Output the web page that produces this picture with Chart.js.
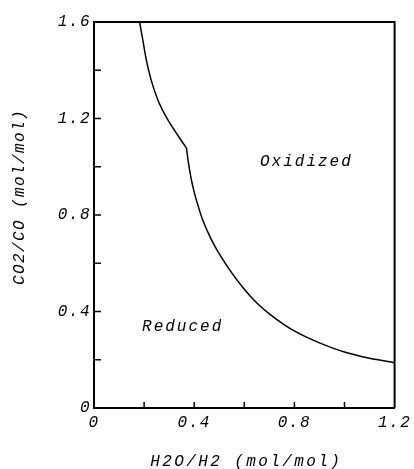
<!DOCTYPE html>
<html>
<head>
<meta charset="utf-8">
<script src="https://cdn.jsdelivr.net/npm/chart.js@4"></script>
<style>
html,body{margin:0;padding:0;background:#fff;}
#wrap{width:414px;height:469px;position:relative;}
</style>
</head>
<body>
<div id="wrap"><canvas id="c"></canvas></div>
<script>
// Phase boundary (upper branch, above the kink)
const upperX = [0.182, 0.195, 0.209, 0.228, 0.255, 0.288, 0.321, 0.345, 0.369];
const upperY = [1.60, 1.525, 1.442, 1.36, 1.277, 1.207, 1.152, 1.114, 1.078];
// Phase boundary (lower branch, below the kink)
const lowerX = [0.369, 0.378, 0.388, 0.40, 0.415, 0.433, 0.455, 0.48, 0.51, 0.55, 0.60, 0.65, 0.70, 0.76, 0.82, 0.90, 1.0, 1.1, 1.2];
const lowerY = [1.078, 1.01, 0.95, 0.895, 0.84, 0.782, 0.728, 0.675, 0.622, 0.56, 0.492, 0.435, 0.39, 0.345, 0.308, 0.27, 0.232, 0.206, 0.188];
// Region labels
const regionLabels = ['Oxidized', 'Reduced'];
const regionX = [0.844, 0.35];
const regionY = [1.02, 0.335];
// Axis titles and tick labels
const xTitle = 'H2O/H2 (mol/mol)';
const yTitle = 'CO2/CO (mol/mol)';
const xTickLabels = ['0', '0.4', '0.8', '1.2'];
const yTickLabels = ['0', '0.4', '0.8', '1.2', '1.6'];

const FONT = 'italic 16px "Liberation Mono", "DejaVu Sans Mono", monospace';

function toPts(xs, ys){ return xs.map((x,i)=>({x:x, y:ys[i]})); }
function labelFor(list, v){
  const k = Math.round(v*10);
  if (k % 4 !== 0) return '';
  return list[k/4] !== undefined ? list[k/4] : '';
}

const decor = {
  id: 'decor',
  beforeDraw(chart){ chart.ctx.letterSpacing = '1.5px'; },
  afterDraw(chart){
    const ctx = chart.ctx, a = chart.chartArea;
    const xs = chart.scales.x, ys = chart.scales.y;
    ctx.save();
    ctx.strokeStyle = '#000';
    // top and right frame
    ctx.lineWidth = 2;
    ctx.beginPath();
    ctx.moveTo(a.left, a.top); ctx.lineTo(a.right, a.top); ctx.lineTo(a.right, a.bottom);
    ctx.stroke();
    // inward ticks
    ctx.lineWidth = 1.5;
    ctx.beginPath();
    xs.ticks.forEach(t=>{
      if (t.value <= xs.min + 1e-9 || t.value >= xs.max - 1e-9) return;
      const px = xs.getPixelForValue(t.value);
      ctx.moveTo(px, a.bottom); ctx.lineTo(px, a.bottom - 6);
    });
    ys.ticks.forEach(t=>{
      if (t.value <= ys.min + 1e-9 || t.value >= ys.max - 1e-9) return;
      const py = ys.getPixelForValue(t.value);
      ctx.moveTo(a.left, py); ctx.lineTo(a.left + 7, py);
    });
    ctx.stroke();
    // region labels
    ctx.fillStyle = '#000';
    ctx.font = FONT;
    ctx.letterSpacing = '2px';
    ctx.textAlign = 'center';
    ctx.textBaseline = 'middle';
    regionLabels.forEach((s,i)=>{
      ctx.fillText(s, xs.getPixelForValue(regionX[i]) + 1, ys.getPixelForValue(regionY[i]));
    });
    // axis titles
    ctx.letterSpacing = '2.4px';
    ctx.fillText(xTitle, (a.left + a.right)/2 + 2, 462);
    ctx.translate(20, 198);
    ctx.rotate(-Math.PI/2);
    ctx.letterSpacing = '1.4px';
    ctx.fillText(yTitle, 1, 0);
    ctx.restore();
  }
};

new Chart(document.getElementById('c'), {
  type: 'line',
  data: {
    datasets: [
      { data: toPts(upperX, upperY), borderColor:'#000', borderWidth:1.5, pointRadius:0, cubicInterpolationMode:'monotone', fill:false },
      { data: toPts(lowerX, lowerY), borderColor:'#000', borderWidth:1.5, pointRadius:0, cubicInterpolationMode:'monotone', fill:false }
    ]
  },
  options: {
    responsive: true,
    maintainAspectRatio: false,
    animation: false,
    layout: { padding: { left: 0, right: 17, top: 22, bottom: 0 } },
    plugins: { legend: { display:false }, tooltip: { enabled:false } },
    scales: {
      x: {
        type: 'linear', min: 0, max: 1.2,
        afterFit(s){ s.height = 61; },
        grid: { display: false, drawTicks: false },
        border: { display: true, color: '#000', width: 2 },
        ticks: { stepSize: 0.2, padding: 5, color: '#000', font: { family: '"Liberation Mono", monospace', size: 16, style: 'italic' },
                 maxRotation: 0, autoSkip: false,
                 callback: (v)=>labelFor(xTickLabels, v) }
      },
      y: {
        type: 'linear', min: 0, max: 1.6,
        afterFit(s){ s.width = 94; },
        grid: { display: false, drawTicks: false },
        border: { display: true, color: '#000', width: 2 },
        ticks: { stepSize: 0.2, padding: 3, color: '#000', font: { family: '"Liberation Mono", monospace', size: 16, style: 'italic' },
                 autoSkip: false,
                 callback: (v)=>labelFor(yTickLabels, v) }
      }
    }
  },
  plugins: [decor]
});
</script>
</body>
</html>
